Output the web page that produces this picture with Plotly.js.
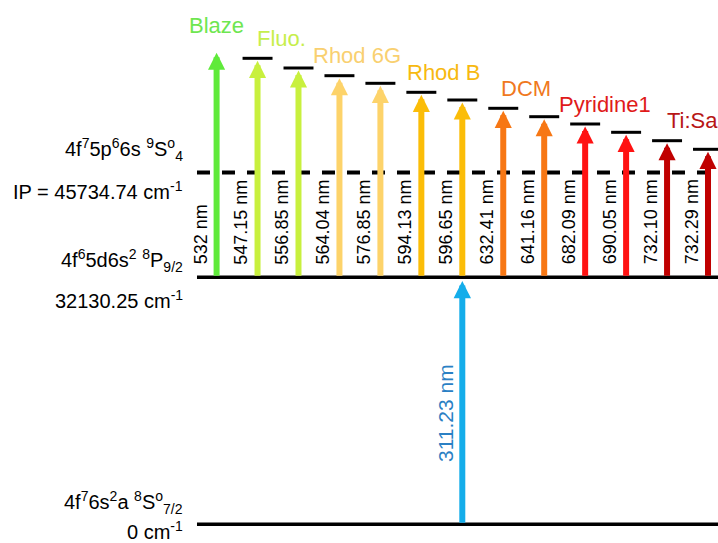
<!DOCTYPE html>
<html>
<head>
<meta charset="utf-8">
<script src="https://cdn.plot.ly/plotly-3.0.1.min.js"></script>
<style>html,body{margin:0;padding:0;background:#fff;}#chart{width:718px;height:543px;}</style>
</head>
<body>
<div id="chart"></div>
<script>
// ---- data ----
const levelEnergy = [0, 32130.25, 45734.74];           // cm-1 : ground, intermediate, IP
const levelConfig = [
  '4f<sup>7</sup>6s<sup>2</sup>a <sup>8</sup>S<sup>o</sup><sub>7/2</sub>',
  '4f<sup>6</sup>5d6s<sup>2</sup> <sup>8</sup>P<sub>9/2</sub>',
  '4f<sup>7</sup>5p<sup>6</sup>6s <sup>9</sup>S<sup>o</sup><sub>4</sub>'
];
const levelValueLabel = ['0 cm<sup>-1</sup>', '32130.25 cm<sup>-1</sup>', 'IP = 45734.74 cm<sup>-1</sup>'];
const firstStepWavelength = '311.23';
const firstStepColumn = 6;

const laserNames  = ['Blaze', 'Fluo.', 'Rhod 6G', 'Rhod B', 'DCM', 'Pyridine1', 'Ti:Sa'];
const laserArrowColors = ['#5fea3a', '#c8f03e', '#fdd36a', '#fbbd08', '#f77714', '#ff1212', '#c00000'];
const laserTextColors  = ['#6ee650', '#c6ee4c', '#f9d070', '#f7b910', '#f07820', '#e01a1a', '#b71616'];

const secondStepWavelengths = ['532', '547.15', '556.85', '564.04', '576.85', '594.13', '596.65',
                               '632.41', '641.16', '682.09', '690.05', '732.10', '732.29'];
const secondStepLaser = [0, 1, 1, 2, 2, 3, 3, 4, 4, 5, 5, 6, 6];
// schematic (not to scale) height of the upper level drawn for each step
const upperLevelDrawn = [61635, 60582, 59321, 58320, 57332, 56162, 55161, 54082, 52990, 52041, 50962, 49870, 48752];
const showUpperBar = [false, true, true, true, true, true, true, true, true, true, true, true, true];

// ---- layout helpers (styling / placement only) ----
const PX = 0.007692;              // px per cm-1 on the y axis
const lineStart = -0.4786;        // x where the long level lines start
const nameXShift = [0, 3, -3, 2, 2, -1, 5];
const shapes = [];
const annotations = [];
const font = 'Liberation Sans, Arial, sans-serif';

levelEnergy.forEach((e, i) => {
  shapes.push({
    type: 'line', xref: 'x', yref: 'y', x0: lineStart, x1: 13, y0: e, y1: e,
    line: {color: '#000', width: i === 2 ? 4 : 3.5, dash: i === 2 ? '13px,12px' : 'solid'}
  });
});

const cfgShift = [22, 17, 23];
const valShift = [-6, -22, -17.5];
levelEnergy.forEach((e, i) => {
  annotations.push({x: lineStart, y: e, xref: 'x', yref: 'y', xanchor: 'right', yanchor: 'middle',
    xshift: -12, yshift: cfgShift[i], showarrow: false, text: levelConfig[i],
    font: {family: font, size: 20, color: '#000'}});
  annotations.push({x: lineStart, y: e, xref: 'x', yref: 'y', xanchor: 'right', yanchor: 'middle',
    xshift: -12, yshift: valShift[i], showarrow: false, text: levelValueLabel[i],
    font: {family: font, size: 20, color: '#000'}});
});

// first step arrow
annotations.push({x: firstStepColumn, y: levelEnergy[1] - 3.8 / PX, ax: firstStepColumn, ay: levelEnergy[0],
  xref: 'x', yref: 'y', axref: 'x', ayref: 'y', text: '', showarrow: true, arrowhead: 2,
  arrowsize: 0.58, arrowwidth: 6, arrowcolor: '#14adea', standoff: 0});
annotations.push({x: firstStepColumn, y: (levelEnergy[0] + levelEnergy[1]) / 2, xref: 'x', yref: 'y',
  xshift: -17, yshift: -12, textangle: -90, showarrow: false, text: firstStepWavelength + ' nm',
  font: {family: font, size: 21, color: '#2a80c4'}});

// second step arrows
secondStepWavelengths.forEach((w, i) => {
  const col = laserArrowColors[secondStepLaser[i]];
  if (showUpperBar[i]) {
    shapes.push({type: 'line', xref: 'x', yref: 'y', x0: i - 0.366, x1: i + 0.366,
      y0: upperLevelDrawn[i], y1: upperLevelDrawn[i], line: {color: '#000', width: 3}});
  }
  annotations.push({x: i, y: upperLevelDrawn[i] - 2.5 / PX, ax: i, ay: levelEnergy[1],
    xref: 'x', yref: 'y', axref: 'x', ayref: 'y', text: '', showarrow: true, arrowhead: 2,
    arrowsize: 0.57, arrowwidth: 6, arrowcolor: col, standoff: 0});
  annotations.push({x: i, y: levelEnergy[1], xref: 'x', yref: 'y', xanchor: 'center', yanchor: 'bottom',
    xshift: -16, yshift: 10.5, textangle: -90, showarrow: false, text: w + ' nm',
    font: {family: font, size: 18, color: '#000'}});
});

// laser names
laserNames.forEach((name, g) => {
  const members = secondStepLaser.map((l, i) => l === g ? i : -1).filter(i => i >= 0);
  const xMid = members.reduce((a, b) => a + b, 0) / members.length;
  annotations.push({x: xMid, y: upperLevelDrawn[members[0]], xref: 'x', yref: 'y',
    xanchor: 'center', yanchor: 'middle', xshift: nameXShift[g], yshift: g === 0 ? 24.5 : 20,
    showarrow: false, text: name, font: {family: font, size: 22, color: laserTextColors[g]}});
});

const layout = {
  width: 718, height: 543,
  margin: {l: 0, r: 0, t: 0, b: 0},
  paper_bgcolor: '#fff', plot_bgcolor: '#fff',
  showlegend: false,
  xaxis: {range: [-5.289, 12.244], visible: false, fixedrange: true},
  yaxis: {range: [-2431, 68162], visible: false, fixedrange: true},
  shapes: shapes,
  annotations: annotations
};

Plotly.newPlot('chart', [{x: [], y: [], type: 'scatter', mode: 'markers', hoverinfo: 'skip'}], layout,
  {displayModeBar: false, staticPlot: true});
</script>
</body>
</html>
